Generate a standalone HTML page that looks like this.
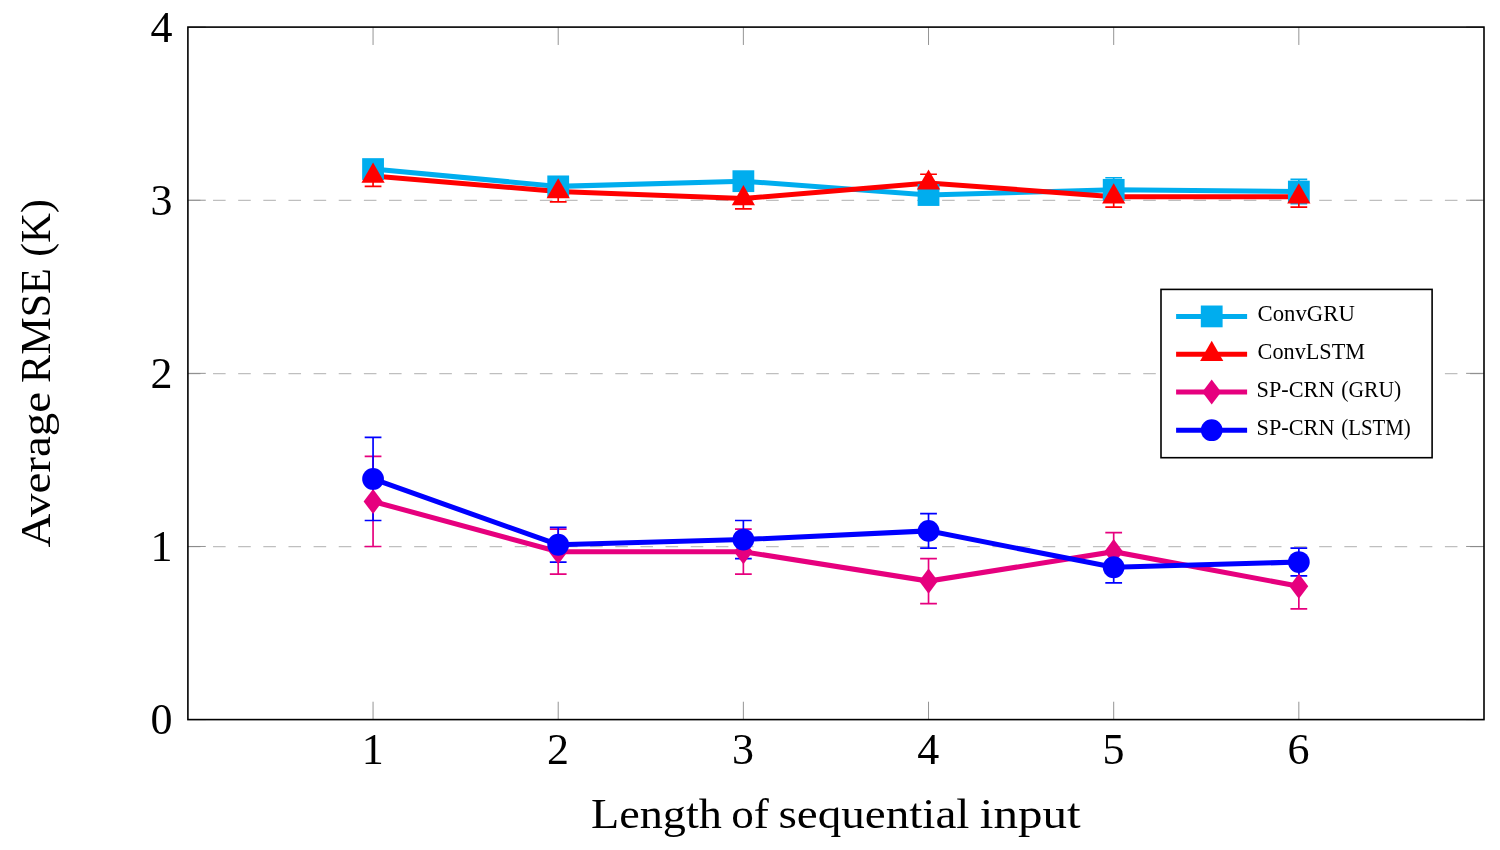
<!DOCTYPE html>
<html lang="en">
<head>
<meta charset="utf-8">
<title>Average RMSE vs length of sequential input</title>
<style>
html,body{margin:0;padding:0;background:#fff;}
body{width:1500px;height:850px;overflow:hidden;}
svg{display:block;}
text{font-family:"Liberation Serif",serif;fill:#000;}
</style>
</head>
<body>
<svg width="1500" height="850" viewBox="0 0 1500 850">
<rect x="0" y="0" width="1500" height="850" fill="#ffffff"/>
<g stroke="#bfbfbf" stroke-width="1.35" stroke-dasharray="12.57 12.57" fill="none">
<line x1="187.9" y1="546.68" x2="1484" y2="546.68"/>
<line x1="187.9" y1="373.55" x2="1484" y2="373.55"/>
<line x1="187.9" y1="200.43" x2="1484" y2="200.43"/>
</g>
<g stroke="#808080" stroke-width="0.84" fill="none">
<line x1="373.06" y1="719.6" x2="373.06" y2="701.72"/>
<line x1="373.06" y1="27.1" x2="373.06" y2="44.98"/>
<line x1="558.21" y1="719.6" x2="558.21" y2="701.72"/>
<line x1="558.21" y1="27.1" x2="558.21" y2="44.98"/>
<line x1="743.37" y1="719.6" x2="743.37" y2="701.72"/>
<line x1="743.37" y1="27.1" x2="743.37" y2="44.98"/>
<line x1="928.53" y1="719.6" x2="928.53" y2="701.72"/>
<line x1="928.53" y1="27.1" x2="928.53" y2="44.98"/>
<line x1="1113.69" y1="719.6" x2="1113.69" y2="701.72"/>
<line x1="1113.69" y1="27.1" x2="1113.69" y2="44.98"/>
<line x1="1298.84" y1="719.6" x2="1298.84" y2="701.72"/>
<line x1="1298.84" y1="27.1" x2="1298.84" y2="44.98"/>
<line x1="187.9" y1="719.6" x2="205.78" y2="719.6"/>
<line x1="1484" y1="719.6" x2="1466.12" y2="719.6"/>
<line x1="187.9" y1="546.48" x2="205.78" y2="546.48"/>
<line x1="1484" y1="546.48" x2="1466.12" y2="546.48"/>
<line x1="187.9" y1="373.35" x2="205.78" y2="373.35"/>
<line x1="1484" y1="373.35" x2="1466.12" y2="373.35"/>
<line x1="187.9" y1="200.23" x2="205.78" y2="200.23"/>
<line x1="1484" y1="200.23" x2="1466.12" y2="200.23"/>
<line x1="187.9" y1="27.1" x2="205.78" y2="27.1"/>
<line x1="1484" y1="27.1" x2="1466.12" y2="27.1"/>
</g>
<rect x="187.9" y="27.1" width="1296.1" height="692.5" fill="none" stroke="#000" stroke-width="1.6"/>
<g>
<polyline points="373.06,169.06 558.21,186.38 743.37,181.18 928.53,195.03 1113.69,189.84 1298.84,191.57" fill="none" stroke="#00adee" stroke-width="5.03" stroke-linejoin="miter"/>
<g stroke="#00adee" stroke-width="1.68" fill="none">
<path d="M373.06 160.41V177.72M364.68 160.41H381.44M364.68 177.72H381.44"/>
<path d="M558.21 177.72V195.03M549.83 177.72H566.59M549.83 195.03H566.59"/>
<path d="M743.37 172.53V189.84M734.99 172.53H751.75M734.99 189.84H751.75"/>
<path d="M928.53 186.38V203.69M920.15 186.38H936.91M920.15 203.69H936.91"/>
<path d="M1113.69 177.72V201.96M1105.31 177.72H1122.07M1105.31 201.96H1122.07"/>
<path d="M1298.84 179.45V203.69M1290.46 179.45H1307.22M1290.46 203.69H1307.22"/>
</g>
</g>
<g>
<polyline points="373.06,175.99 558.21,191.57 743.37,198.49 928.53,182.91 1113.69,196.76 1298.84,196.76" fill="none" stroke="#ff0000" stroke-width="5.03" stroke-linejoin="miter"/>
<g stroke="#ff0000" stroke-width="1.68" fill="none">
<path d="M373.06 165.6V186.38M364.68 165.6H381.44M364.68 186.38H381.44"/>
<path d="M558.21 181.18V201.96M549.83 181.18H566.59M549.83 201.96H566.59"/>
<path d="M743.37 188.11V208.88M734.99 188.11H751.75M734.99 208.88H751.75"/>
<path d="M928.53 174.26V191.57M920.15 174.26H936.91M920.15 191.57H936.91"/>
<path d="M1113.69 186.38V207.15M1105.31 186.38H1122.07M1105.31 207.15H1122.07"/>
<path d="M1298.84 186.38V207.15M1290.46 186.38H1307.22M1290.46 207.15H1307.22"/>
</g>
</g>
<g>
<polyline points="373.06,501.46 558.21,551.67 743.37,551.67 928.53,581.1 1113.69,551.67 1298.84,586.29" fill="none" stroke="#e6007e" stroke-width="5.03" stroke-linejoin="miter"/>
<g stroke="#e6007e" stroke-width="1.68" fill="none">
<path d="M373.06 456.45V546.48M364.68 456.45H381.44M364.68 546.48H381.44"/>
<path d="M558.21 529.16V574.18M549.83 529.16H566.59M549.83 574.18H566.59"/>
<path d="M743.37 529.16V574.18M734.99 529.16H751.75M734.99 574.18H751.75"/>
<path d="M928.53 558.59V603.61M920.15 558.59H936.91M920.15 603.61H936.91"/>
<path d="M1113.69 532.62V570.71M1105.31 532.62H1122.07M1105.31 570.71H1122.07"/>
<path d="M1298.84 563.79V608.8M1290.46 563.79H1307.22M1290.46 608.8H1307.22"/>
</g>
</g>
<g>
<polyline points="373.06,478.96 558.21,544.74 743.37,539.55 928.53,530.89 1113.69,567.25 1298.84,562.06" fill="none" stroke="#0000ff" stroke-width="5.03" stroke-linejoin="miter"/>
<g stroke="#0000ff" stroke-width="1.68" fill="none">
<path d="M373.06 437.41V520.51M364.68 437.41H381.44M364.68 520.51H381.44"/>
<path d="M558.21 527.43V562.06M549.83 527.43H566.59M549.83 562.06H566.59"/>
<path d="M743.37 520.51V558.59M734.99 520.51H751.75M734.99 558.59H751.75"/>
<path d="M928.53 513.58V548.21M920.15 513.58H936.91M920.15 548.21H936.91"/>
<path d="M1113.69 551.67V582.83M1105.31 551.67H1122.07M1105.31 582.83H1122.07"/>
<path d="M1298.84 548.21V575.91M1290.46 548.21H1307.22M1290.46 575.91H1307.22"/>
</g>
</g>
<g>
<rect x="362.16" y="158.17" width="21.79" height="21.79" fill="#00adee"/>
<rect x="547.32" y="175.48" width="21.79" height="21.79" fill="#00adee"/>
<rect x="732.48" y="170.29" width="21.79" height="21.79" fill="#00adee"/>
<rect x="917.63" y="184.14" width="21.79" height="21.79" fill="#00adee"/>
<rect x="1102.79" y="178.94" width="21.79" height="21.79" fill="#00adee"/>
<rect x="1287.95" y="180.67" width="21.79" height="21.79" fill="#00adee"/>
</g>
<g>
<polygon points="373.06,162.58 361.45,182.69 384.67,182.69" fill="#ff0000"/>
<polygon points="558.21,178.16 546.6,198.27 569.83,198.27" fill="#ff0000"/>
<polygon points="743.37,185.09 731.76,205.2 754.98,205.2" fill="#ff0000"/>
<polygon points="928.53,169.5 916.92,189.62 940.14,189.62" fill="#ff0000"/>
<polygon points="1113.69,183.35 1102.07,203.47 1125.3,203.47" fill="#ff0000"/>
<polygon points="1298.84,183.35 1287.23,203.47 1310.45,203.47" fill="#ff0000"/>
</g>
<g>
<polygon points="373.06,488.89 382.48,501.46 373.06,514.03 363.63,501.46" fill="#e6007e"/>
<polygon points="558.21,539.1 567.64,551.67 558.21,564.24 548.79,551.67" fill="#e6007e"/>
<polygon points="743.37,539.1 752.8,551.67 743.37,564.24 733.94,551.67" fill="#e6007e"/>
<polygon points="928.53,568.53 937.96,581.1 928.53,593.67 919.1,581.1" fill="#e6007e"/>
<polygon points="1113.69,539.1 1123.11,551.67 1113.69,564.24 1104.26,551.67" fill="#e6007e"/>
<polygon points="1298.84,573.72 1308.27,586.29 1298.84,598.86 1289.42,586.29" fill="#e6007e"/>
</g>
<g>
<circle cx="373.06" cy="478.96" r="10.89" fill="#0000ff"/>
<circle cx="558.21" cy="544.74" r="10.89" fill="#0000ff"/>
<circle cx="743.37" cy="539.55" r="10.89" fill="#0000ff"/>
<circle cx="928.53" cy="530.89" r="10.89" fill="#0000ff"/>
<circle cx="1113.69" cy="567.25" r="10.89" fill="#0000ff"/>
<circle cx="1298.84" cy="562.06" r="10.89" fill="#0000ff"/>
</g>
<g font-size="44" text-anchor="middle">
<text x="372.76" y="763.8">1</text>
<text x="557.91" y="763.8">2</text>
<text x="743.07" y="763.8">3</text>
<text x="928.23" y="763.8">4</text>
<text x="1113.39" y="763.8">5</text>
<text x="1298.54" y="763.8">6</text>
</g>
<g font-size="44" text-anchor="end">
<text x="172.4" y="734.4">0</text>
<text x="172.4" y="561.27">1</text>
<text x="172.4" y="388.15">2</text>
<text x="172.4" y="215.03">3</text>
<text x="172.4" y="41.9">4</text>
</g>
<text y="827.6" font-size="43"><tspan x="591" textLength="130.81" lengthAdjust="spacingAndGlyphs">Length</tspan> <tspan x="731.2" textLength="37.66" lengthAdjust="spacingAndGlyphs">of</tspan> <tspan x="778.4" textLength="191.03" lengthAdjust="spacingAndGlyphs">sequential</tspan> <tspan x="979.8" textLength="100.82" lengthAdjust="spacingAndGlyphs">input</tspan></text>
<text transform="translate(49.8 0) rotate(-90)" y="0" font-size="43"><tspan x="-547.4" textLength="155.42" lengthAdjust="spacingAndGlyphs">Average</tspan> <tspan x="-383" textLength="114.89" lengthAdjust="spacingAndGlyphs">RMSE</tspan> <tspan x="-256.8" textLength="57.68" lengthAdjust="spacingAndGlyphs">(K)</tspan></text>
<rect x="1161" y="289.4" width="271.1" height="168.3" fill="#fff" stroke="#000" stroke-width="1.6"/>
<line x1="1176.1" y1="316.4" x2="1247.1" y2="316.4" stroke="#00adee" stroke-width="5.03"/>
<rect x="1200.81" y="305.51" width="21.79" height="21.79" fill="#00adee"/>
<text y="321.2" font-size="22.8"><tspan x="1257.6" textLength="97.22" lengthAdjust="spacingAndGlyphs">ConvGRU</tspan></text>
<line x1="1176.1" y1="354.2" x2="1247.1" y2="354.2" stroke="#ff0000" stroke-width="5.03"/>
<polygon points="1211.7,340.79 1200.09,360.9 1223.31,360.9" fill="#ff0000"/>
<text y="358.6" font-size="22.8"><tspan x="1257.6" textLength="107.4" lengthAdjust="spacingAndGlyphs">ConvLSTM</tspan></text>
<line x1="1176.1" y1="392" x2="1247.1" y2="392" stroke="#e6007e" stroke-width="5.03"/>
<polygon points="1211.7,379.43 1221.13,392 1211.7,404.57 1202.27,392" fill="#e6007e"/>
<text y="396.6" font-size="22.8"><tspan x="1256.6" textLength="77.86" lengthAdjust="spacingAndGlyphs">SP-CRN</tspan> <tspan x="1341.2" textLength="60.06" lengthAdjust="spacingAndGlyphs">(GRU)</tspan></text>
<line x1="1176.1" y1="430.2" x2="1247.1" y2="430.2" stroke="#0000ff" stroke-width="5.03"/>
<circle cx="1211.7" cy="430.2" r="10.89" fill="#0000ff"/>
<text y="435.2" font-size="22.8"><tspan x="1256.6" textLength="77.86" lengthAdjust="spacingAndGlyphs">SP-CRN</tspan> <tspan x="1341.2" textLength="69.59" lengthAdjust="spacingAndGlyphs">(LSTM)</tspan></text>
</svg>
</body>
</html>
